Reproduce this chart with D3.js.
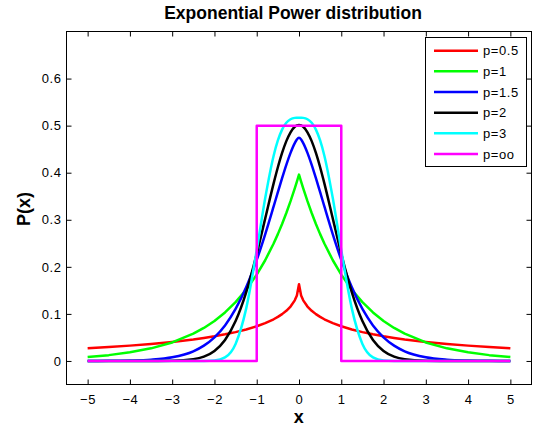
<!DOCTYPE html>
<html><head><meta charset="utf-8">
<script src="https://cdn.jsdelivr.net/npm/d3@7"></script>
<style>
body{margin:0;background:#fff}
text{font-family:Arial,"Liberation Sans",Helvetica,sans-serif;fill:#000}
</style></head>
<body><svg id="c" width="537" height="431"></svg>
<script>
// ---- data ----
const xs = [-5,-4.5,-4,-3.5,-3,-2.5,-2.25,-2,-1.75,-1.5,-1.25,-1,-0.8,-0.6,-0.5,-0.4,-0.3,-0.2,-0.1,-0.05,
  0,
  0.05,0.1,0.2,0.3,0.4,0.5,0.6,0.8,1,1.25,1.5,1.75,2,2.25,2.5,3,3.5,4,4.5,5];
const pHalf = [0.0269,0.0295,0.0326,0.0362,0.0405,0.0458,0.0490,0.0525,0.0566,0.0613,0.0669,0.0737,0.0803,0.0886,0.0936,0.0995,0.1066,0.1157,0.1288,0.1389,
  0.163,
  0.1389,0.1288,0.1157,0.1066,0.0995,0.0936,0.0886,0.0803,0.0737,0.0669,0.0613,0.0566,0.0525,0.0490,0.0458,0.0405,0.0362,0.0326,0.0295,0.0269];
const pOne = [0.0085,0.0124,0.0183,0.0268,0.0394,0.0579,0.0702,0.0850,0.1031,0.1249,0.1514,0.1835,0.2140,0.2496,0.2695,0.2911,0.3144,0.3395,0.3667,0.3811,
  0.396,
  0.3811,0.3667,0.3395,0.3144,0.2911,0.2695,0.2496,0.2140,0.1835,0.1514,0.1249,0.1031,0.0850,0.0702,0.0579,0.0394,0.0268,0.0183,0.0124,0.0085];
const pOneHalf = [0.0001,0.0002,0.0008,0.0026,0.0077,0.0206,0.0326,0.0503,0.0756,0.1105,0.1566,0.2147,0.2690,0.3283,0.3586,0.3884,0.4167,0.4422,0.4629,0.4705,
  0.474,
  0.4705,0.4629,0.4422,0.4167,0.3884,0.3586,0.3283,0.2690,0.2147,0.1566,0.1105,0.0756,0.0503,0.0326,0.0206,0.0077,0.0026,0.0008,0.0002,0.0001];
const pTwo = [0,0,0,0,0.0004,0.0036,0.0092,0.0213,0.0446,0.0848,0.1459,0.2276,0.3025,0.3774,0.4116,0.4420,0.4671,0.4859,0.4976,0.5005,
  0.5015,
  0.5005,0.4976,0.4859,0.4671,0.4420,0.4116,0.3774,0.3025,0.2276,0.1459,0.0848,0.0446,0.0213,0.0092,0.0036,0.0004,0,0,0,0];
const pThree = [0,0,0,0,0,0,0.0001,0.0010,0.0076,0.0363,0.1112,0.2354,0.3456,0.4361,0.4685,0.4915,0.5060,0.5136,0.5165,0.5168,
  0.5169,
  0.5168,0.5165,0.5136,0.5060,0.4915,0.4685,0.4361,0.3456,0.2354,0.1112,0.0363,0.0076,0.0010,0.0001,0,0,0,0,0,0];
const uniformX = [-5,-1,-1,1,1,5];
const uniformY = [0,0,0.5,0.5,0,0];

const seriesNames = ["p=0.5","p=1","p=1.5","p=2","p=3","p=oo"];
const seriesColors = ["#ff0000","#00ff00","#0000ff","#000000","#00ffff","#ff00ff"];
const xTicks = [-5,-4,-3,-2,-1,0,1,2,3,4,5];
const xTickLabels = ["\u22125","\u22124","\u22123","\u22122","\u22121","0","1","2","3","4","5"];
const yTicks = [0,0.1,0.2,0.3,0.4,0.5,0.6];
const yTickLabels = ["0","0.1","0.2","0.3","0.4","0.5","0.6"];

// ---- layout ----
const svg = d3.select("#c");
const L = 66.5, R = 531.5, T = 31.5, B = 384.5;
const x = d3.scaleLinear().domain([-5.5,5.5]).range([L,R]);
const y = d3.scaleLinear().domain([-0.05,0.7]).range([B,T]);

// curves
const curves = [
  {xv:xs, yv:pHalf, curve:d3.curveLinear},
  {xv:xs, yv:pOne, curve:d3.curveLinear},
  {xv:xs, yv:pOneHalf, curve:d3.curveMonotoneX},
  {xv:xs, yv:pTwo, curve:d3.curveMonotoneX},
  {xv:xs, yv:pThree, curve:d3.curveMonotoneX},
  {xv:uniformX, yv:uniformY, curve:d3.curveLinear}
];
const plot = svg.append("g");
curves.forEach((c,i)=>{
  const pts = c.xv.map((v,j)=>[v,c.yv[j]]);
  const line = d3.line().x(d=>x(d[0])).y(d=>y(d[1])).curve(c.curve);
  plot.append("path").attr("d",line(pts)).attr("fill","none")
    .attr("stroke",seriesColors[i]).attr("stroke-width",2.5)
    .attr("stroke-linejoin","round").attr("stroke-linecap","butt");
});

// axes
const tickFont = g => g.selectAll("text").attr("font-size","13px").attr("letter-spacing","0.6px").attr("font-family","Arial, 'Liberation Sans', sans-serif").attr("fill","#000");
const strip = g => { g.select(".domain").remove(); g.selectAll("line").attr("stroke","#000"); };
svg.append("g").attr("transform",`translate(0,${B})`)
  .call(d3.axisBottom(x).tickValues(xTicks).tickFormat((d,i)=>xTickLabels[i]).tickSize(-5).tickPadding(10))
  .call(strip).call(tickFont);
svg.append("g").attr("transform",`translate(0,${T})`)
  .call(d3.axisTop(x).tickValues(xTicks).tickFormat("").tickSize(-5)).call(strip);
svg.append("g").attr("transform",`translate(${L},0)`)
  .call(d3.axisLeft(y).tickValues(yTicks).tickFormat((d,i)=>yTickLabels[i]).tickSize(-5).tickPadding(5))
  .call(strip).call(tickFont);
svg.append("g").attr("transform",`translate(${R},0)`)
  .call(d3.axisRight(y).tickValues(yTicks).tickFormat("").tickSize(-5)).call(strip);
svg.selectAll(".tick text").attr("fill","#000");
svg.append("rect").attr("x",L).attr("y",T).attr("width",R-L).attr("height",B-T)
  .attr("fill","none").attr("stroke","#000").attr("stroke-width",1);

// legend
const lg = svg.append("g");
lg.append("rect").attr("x",425.5).attr("y",37.5).attr("width",101).attr("height",129)
  .attr("fill","#fff").attr("stroke","#000").attr("stroke-width",1);
seriesNames.forEach((n,i)=>{
  const yy = 50.7 + i*20.65;
  lg.append("line").attr("x1",434).attr("x2",478).attr("y1",yy).attr("y2",yy)
    .attr("stroke",seriesColors[i]).attr("stroke-width",2.5);
  lg.append("text").attr("x",483).attr("y",yy+4.7).attr("font-size","13px")
    .attr("letter-spacing","0.6px").text(n);
});

// titles
svg.append("text").attr("x",293).attr("y",18.5).attr("text-anchor","middle")
  .attr("font-size","17.5px").attr("font-weight","bold").text("Exponential Power distribution");
svg.append("text").attr("x",298.7).attr("y",423).attr("text-anchor","middle")
  .attr("font-size","18px").attr("font-weight","bold").text("x");
svg.append("text").attr("transform","translate(30,209) rotate(-90)").attr("text-anchor","middle")
  .attr("font-size","18px").attr("font-weight","bold").text("P(x)");
</script></body></html>
